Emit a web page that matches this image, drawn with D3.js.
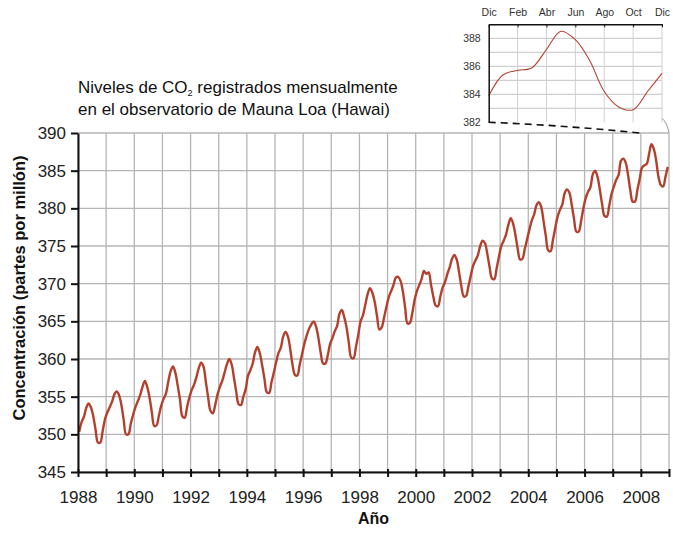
<!DOCTYPE html>
<html><head><meta charset="utf-8">
<script src="https://cdn.jsdelivr.net/npm/d3@7"></script>
<style>
body{margin:0;background:#fff;}
svg{display:block;font-family:"Liberation Sans",Arial,sans-serif;}
</style>
</head><body>
<svg id="c" width="673" height="534"></svg>
<script>
// ---------- DATA ----------
const startYear = 1988;
// Monthly mean CO2 (ppm), Jan 1988 .. Dec 2008
const co2Monthly = [
  350.3, 351.6, 352.3, 353.5, 354.1, 353.6, 352.4, 350.6, 348.9, 348.9, 350.4, 352.0, // 1988
  352.9, 353.6, 354.3, 355.3, 355.7, 355.2, 353.9, 351.9, 350.0, 350.0, 351.4, 352.6, // 1989
  353.6, 354.4, 355.2, 356.3, 357.1, 356.3, 354.9, 352.9, 351.1, 351.2, 352.5, 353.8, // 1990
  354.7, 355.4, 357.0, 358.4, 359.0, 358.2, 356.5, 354.6, 352.4, 352.2, 353.6, 354.9, // 1991
  355.9, 356.6, 357.6, 358.8, 359.5, 359.0, 357.0, 354.9, 353.1, 352.8, 353.9, 355.3, // 1992
  356.3, 357.1, 358.2, 359.3, 360.0, 359.3, 357.5, 355.6, 354.0, 353.9, 355.0, 356.0, // 1993
  357.8, 358.5, 359.4, 360.9, 361.6, 360.8, 359.2, 357.4, 355.6, 355.5, 356.9, 358.2, // 1994
  359.6, 360.8, 361.5, 363.0, 363.6, 363.0, 361.3, 359.2, 357.9, 357.8, 359.2, 360.6, // 1995
  362.0, 363.1, 364.0, 364.6, 365.0, 364.3, 362.8, 360.8, 359.4, 359.4, 360.5, 362.0, // 1996
  362.8, 363.7, 364.4, 366.0, 366.5, 365.6, 364.2, 362.1, 360.2, 360.1, 361.6, 363.2, // 1997
  365.0, 365.8, 367.2, 368.6, 369.4, 368.8, 367.6, 365.7, 363.9, 364.2, 365.5, 366.9, // 1998
  368.2, 369.0, 369.8, 370.8, 370.9, 370.4, 369.0, 366.8, 364.7, 364.8, 366.0, 367.8, // 1999
  369.0, 369.8, 370.6, 371.7, 371.3, 371.5, 369.9, 368.3, 367.1, 367.0, 368.3, 369.5, // 2000
  370.2, 371.3, 372.2, 373.3, 373.8, 373.2, 371.5, 369.6, 368.3, 368.4, 369.7, 371.1, // 2001
  372.4, 373.1, 373.8, 375.0, 375.7, 375.4, 374.0, 372.2, 370.7, 370.6, 372.0, 373.6, // 2002
  375.0, 375.7, 376.5, 377.8, 378.7, 378.0, 376.5, 374.6, 373.2, 373.3, 374.6, 375.9, // 2003
  377.2, 378.4, 379.2, 380.4, 380.8, 380.2, 378.3, 376.3, 374.4, 374.3, 375.8, 377.4, // 2004
  378.9, 379.8, 380.5, 382.0, 382.5, 382.1, 380.5, 378.6, 376.9, 376.9, 378.3, 380.0, // 2005
  381.4, 382.2, 382.8, 384.5, 385.0, 384.2, 382.5, 380.5, 379.0, 378.9, 380.3, 381.9, // 2006
  382.9, 383.8, 384.4, 386.3, 386.6, 386.1, 384.5, 382.4, 380.9, 380.9, 382.4, 383.9, // 2007
  385.4, 385.7, 385.9, 387.2, 388.5, 387.9, 386.4, 384.2, 383.1, 382.9, 384.2, 385.5  // 2008
];
const yTicks = [345, 350, 355, 360, 365, 370, 375, 380, 385, 390];
const xGridYears = [1988,1989,1990,1991,1992,1993,1994,1995,1996,1997,1998,1999,2000,2001,2002,2003,2004,2005,2006,2007,2008,2009];
const xLabelYears = [1988,1990,1992,1994,1996,1998,2000,2002,2004,2006,2008];
const insetMonthLabels = ["Dic","Feb","Abr","Jun","Ago","Oct","Dic"];
const insetYTicks = [382, 384, 386, 388];
const insetYGrid = [383, 384, 385, 386, 387, 388];
const titleLine1 = ["Niveles de CO", "2", " registrados mensualmente"];
const titleLine2 = "en el observatorio de Mauna Loa (Hawai)";
const yTitle = "Concentración (partes por millón)";
const xTitle = "Año";

// ---------- SETUP ----------
const svg = d3.select("#c");
const lineColor = "#b3402d";
const gridColor = "#b5b5b5";
const W = {left: 78, right: 669, top: 133, bottom: 472};

svg.append("rect").attr("width", 673).attr("height", 534).attr("fill", "#fff");

const x = d3.scaleLinear().domain([1988, 2009]).range([W.left, W.right]);
const y = d3.scaleLinear().domain([345, 390]).range([W.bottom, W.top]);

const series = co2Monthly.map((v, i) => ({ t: startYear + (i + 0.5) / 12, v }));

// grid
const grid = svg.append("g");
grid.selectAll("line.v").data(xGridYears).join("line")
  .attr("x1", d => x(d)).attr("x2", d => x(d))
  .attr("y1", y(345)).attr("y2", y(390))
  .attr("stroke", gridColor).attr("stroke-width", 1.3);
grid.selectAll("line.h").data(yTicks).join("line")
  .attr("x1", x(1988)).attr("x2", x(2009))
  .attr("y1", d => y(d)).attr("y2", d => y(d))
  .attr("stroke", gridColor).attr("stroke-width", 1.3);

// line
const line = d3.line().x(d => x(d.t)).y(d => y(d.v)).curve(d3.curveCatmullRom.alpha(0.5));
svg.append("path").datum(series)
  .attr("d", line).attr("fill", "none")
  .attr("stroke", lineColor).attr("stroke-width", 2.4).attr("stroke-linejoin", "round");

// y axis
const yAxis = svg.append("g").attr("transform", `translate(${W.left},0)`)
  .call(d3.axisLeft(y).tickValues(yTicks).tickSize(7).tickSizeOuter(0).tickPadding(5).tickFormat(d3.format("d")));
yAxis.select(".domain").attr("stroke", "#111").attr("stroke-width", 2);
yAxis.selectAll(".tick line").attr("stroke", "#111").attr("stroke-width", 2);
yAxis.selectAll("text").attr("font-size", 17).attr("fill", "#222").attr("font-family", "'Liberation Sans',Arial,sans-serif");

// x axis
const xAxis = svg.append("g").attr("transform", `translate(0,${W.bottom})`)
  .call(d3.axisBottom(x).tickValues(xGridYears).tickSize(5).tickSizeOuter(0).tickPadding(14)
    .tickFormat(d => xLabelYears.includes(d) ? String(d) : ""));
xAxis.select(".domain").attr("stroke", "#111").attr("stroke-width", 2);
xAxis.selectAll(".tick line").attr("stroke", "#111").attr("stroke-width", 2).attr("y1", -3);
xAxis.selectAll("text").attr("font-size", 17).attr("fill", "#222").attr("font-family", "'Liberation Sans',Arial,sans-serif");

// axis titles
svg.append("text").attr("x", (W.left + W.right) / 2).attr("y", 524)
  .attr("text-anchor", "middle").attr("font-size", 16).attr("font-weight", "bold").attr("fill", "#111")
  .text(xTitle);
svg.append("text").attr("transform", "translate(25,288) rotate(-90)")
  .attr("text-anchor", "middle").attr("font-size", 16.5).attr("font-weight", "bold").attr("fill", "#111")
  .text(yTitle);

// title
const t1 = svg.append("text").attr("x", 78).attr("y", 93).attr("font-size", 17).attr("fill", "#111");
t1.append("tspan").text(titleLine1[0]);
t1.append("tspan").attr("font-size", 9).attr("dy", 3).text(titleLine1[1]);
t1.append("tspan").attr("dy", -3).text(titleLine1[2]);
svg.append("text").attr("x", 78).attr("y", 115).attr("font-size", 17).attr("fill", "#111").text(titleLine2);

// ---------- INSET ----------
const insetData = co2Monthly.slice(co2Monthly.length - 13).map((v, i) => ({ m: i, v }));
const ix = d3.scaleLinear().domain([0, 12]).range([488.7, 662]);
const iy = d3.scaleLinear().domain([382, 389]).range([122.3, 24.3]);
const inset = svg.append("g");
inset.selectAll("line.h").data(insetYGrid).join("line")
  .attr("x1", ix(0)).attr("x2", ix(12)).attr("y1", d => iy(d)).attr("y2", d => iy(d))
  .attr("stroke", "#c4c4c4").attr("stroke-width", 1);
const monthTicks = insetMonthLabels.map((d, i) => i * 2);
inset.selectAll("line.v").data(monthTicks.slice(1)).join("line")
  .attr("x1", d => ix(d)).attr("x2", d => ix(d)).attr("y1", iy(389)).attr("y2", iy(382))
  .attr("stroke", "#d0d0d0").attr("stroke-width", 1);
inset.append("path").datum(insetData)
  .attr("d", d3.line().x(d => ix(d.m)).y(d => iy(d.v)).curve(d3.curveCatmullRom.alpha(0.5)))
  .attr("fill", "none").attr("stroke", lineColor).attr("stroke-width", 1.1);
const topAx = inset.append("g").attr("transform", `translate(0,${iy(389)})`)
  .call(d3.axisTop(ix).tickValues(monthTicks).tickSize(-3).tickSizeOuter(0).tickPadding(8)
    .tickFormat((d, i) => insetMonthLabels[i]));
topAx.select(".domain").attr("stroke", "#111").attr("stroke-width", 1.5);
topAx.selectAll(".tick line").attr("stroke", "#111");
topAx.selectAll("text").attr("font-size", 10.5).attr("fill", "#333").attr("font-family", "'Liberation Sans',Arial,sans-serif");
const leftAx = inset.append("g").attr("transform", `translate(${ix(0)},0)`)
  .call(d3.axisLeft(iy).tickValues(insetYTicks).tickSize(0).tickSizeOuter(0).tickPadding(8).tickFormat(d3.format("d")));
leftAx.select(".domain").attr("stroke", "#111").attr("stroke-width", 1.5);
leftAx.selectAll("text").attr("font-size", 10.5).attr("fill", "#333").attr("font-family", "'Liberation Sans',Arial,sans-serif");

// connectors
const decPrevX = x(startYear + (co2Monthly.length - 13 + 0.5) / 12);
const p0 = [ix(0), iy(382)], p1 = [decPrevX, y(390)];
svg.append("path")
  .attr("d", `M${p0[0]},${p0[1]} Q${(p0[0] + p1[0]) / 2},${p0[1] + 3} ${p1[0]},${p1[1]}`)
  .attr("fill", "none").attr("stroke", "#111").attr("stroke-width", 1.6).attr("stroke-dasharray", "7,5");
const q0 = [ix(12), iy(382)], q1 = [x(2009), y(390)];
svg.append("path")
  .attr("d", `M${q0[0]},${q0[1] - 4} Q${q1[0] - 2},${q0[1]} ${q1[0]},${q1[1]}`)
  .attr("fill", "none").attr("stroke", "#999").attr("stroke-width", 1);
</script>
</body></html>
